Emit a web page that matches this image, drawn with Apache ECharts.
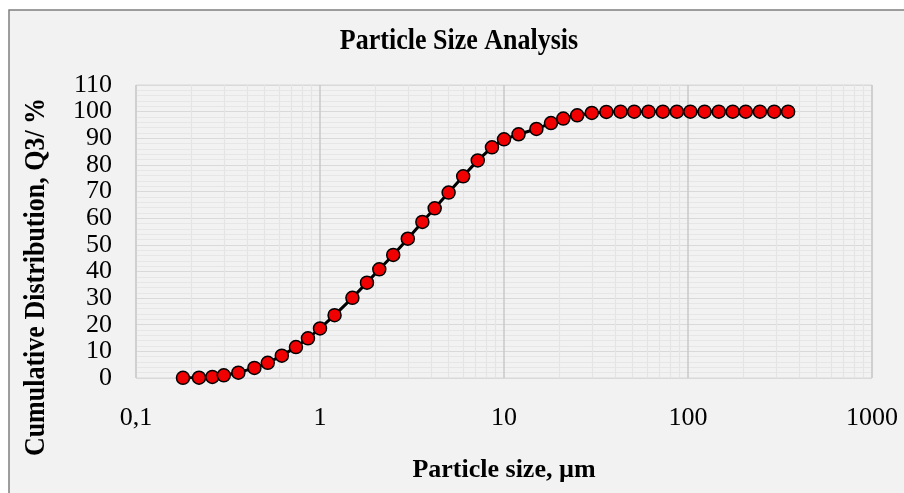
<!DOCTYPE html>
<html>
<head>
<meta charset="utf-8">
<script src="https://cdn.jsdelivr.net/npm/echarts@6/dist/echarts.min.js"></script>
<style>
html,body{margin:0;padding:0;background:#ffffff;}
#chart{width:904px;height:493px;}
</style>
</head>
<body>
<div id="chart"></div>
<script>
// Particle sizes (µm)
const sizes = [0.18,0.22,0.26,0.30,0.36,0.44,0.52,0.62,0.74,0.86,1.0,1.2,1.5,1.8,2.1,2.5,3.0,3.6,4.2,5.0,6.0,7.2,8.6,10,12,15,18,21,25,30,36,43,51,61,73,87,103,123,147,175,206,246,294,350];
// Cumulative distribution Q3 (%)
const q3 = [0.05,0.1,0.4,1.0,2.0,3.8,5.7,8.4,11.6,14.9,18.6,23.6,30.1,35.8,40.8,46.2,52.3,58.6,63.7,69.6,75.7,81.7,86.6,89.6,91.5,93.5,95.7,97.4,98.6,99.5,99.9,100,100,100,100,100,100,100,100,100,100,100,100,100];
// Minor vertical grid positions
const minorGridX = [0.2,0.3,0.4,0.5,0.6,0.7,0.8,0.9,2,3,4,5,6,7,8,9,20,30,40,50,60,70,80,90,200,300,400,500,600,700,800,900];
const titleText = 'Particle Size Analysis';
const xTitle = 'Particle size, µm';
const yTitle = 'Cumulative Distribution, Q3/ %';

const FONT = '"Liberation Serif", "Times New Roman", serif';
const chart = echarts.init(document.getElementById('chart'), null, {renderer:'canvas'});
const option = {
  backgroundColor: 'transparent',
  animation: false,
  graphic: [
    {type:'rect', z:-100, shape:{x:9, y:10, width:1000, height:600}, style:{fill:'#f2f2f2', stroke:'#7f7f7f', lineWidth:1.5}},
    {type:'text', z:100, x:459, y:41, scaleY:1.12, style:{text:titleText, font:'bold 26px ' + FONT, fill:'#000', align:'center', verticalAlign:'middle'}},
    {type:'text', z:100, x:37, y:277, rotation:Math.PI/2, scaleY:1.1, style:{text:yTitle, font:'bold 26px ' + FONT, fill:'#000', align:'center', verticalAlign:'middle'}}
  ],
  grid: {left:136, top:85, right:32, bottom:115, show:true, backgroundColor:'#f2f2f2', borderColor:'#d9d9d9', borderWidth:1},
  xAxis: {
    type:'log', logBase:10, min:0.1, max:1000,
    name: xTitle, nameLocation:'middle', nameGap:79,
    nameTextStyle:{fontFamily:FONT, fontWeight:'bold', fontSize:26, color:'#000'},
    axisLine:{show:false}, axisTick:{show:false},
    axisLabel:{fontFamily:FONT, fontSize:26, color:'#000', margin:27,
      formatter: v => (v < 1 ? String(v).replace('.', ',') : String(Math.round(v)))},
    splitLine:{show:true, lineStyle:{color:'#c8c8c8', width:1.5}}
  },
  yAxis: {
    type:'value', min:0, max:110, interval:10,
    axisLine:{show:false}, axisTick:{show:false},
    axisLabel:{fontFamily:FONT, fontSize:26, color:'#000', margin:24},
    splitLine:{show:true, lineStyle:{color:'#d9d9d9', width:1.2}},
    minorTick:{show:false, splitNumber:5},
    minorSplitLine:{show:true, lineStyle:{color:'#e6e6e6', width:1}}
  },
  series: [
    {
      type:'line', data:[], silent:true,
      markLine:{silent:true, symbol:'none', label:{show:false}, animation:false,
        lineStyle:{color:'#e4e4e4', width:1.2, type:'solid'},
        data: minorGridX.map(v => ({xAxis:v}))}
    },
    {
      type:'line', z:10,
      data: sizes.map((s,i) => [s, q3[i]]),
      symbol:'circle', symbolSize:13,
      lineStyle:{color:'#000', width:3},
      itemStyle:{color:'#f00000', borderColor:'#000', borderWidth:1.5}
    }
  ]
};
chart.setOption(option);
</script>
</body>
</html>
